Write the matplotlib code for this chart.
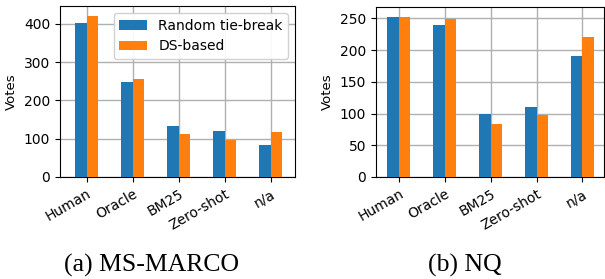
import matplotlib.pyplot as plt
import numpy as np

categories = ['Human', 'Oracle', 'BM25', 'Zero-shot', 'n/a']
series_names = ['Random tie-break', 'DS-based']

msmarco_random = [403, 248, 133, 120, 83]
msmarco_ds = [422, 256, 112, 97, 117]

nq_random = [253, 239, 99, 110, 190]
nq_ds = [253, 249, 84, 97, 220]

BLUE = '#1f77b4'
ORANGE = '#ff7f0e'
W, H = 605, 279


def draw_panel(ax, rand, ds, ymax, yticks, xlim):
    x = np.arange(len(categories))
    w = 0.25
    ax.bar(x - w / 2, rand, w, color=BLUE, label=series_names[0], zorder=3)
    ax.bar(x + w / 2, ds, w, color=ORANGE, label=series_names[1], zorder=3)
    ax.set_xticks(x)
    ax.set_xticklabels(categories, rotation=30, ha='right',
                       rotation_mode='anchor')
    ax.set_yticks(yticks)
    ax.set_ylim(0, ymax)
    ax.set_xlim(*xlim)
    ax.set_ylabel('Votes', fontsize=9.5)
    ax.grid(True, color='#b0b0b0', linewidth=1.0, zorder=0)
    ax.set_axisbelow(True)
    ax.tick_params(labelsize=10)


fig = plt.figure(figsize=(W / 100, H / 100), dpi=100)

ax1 = fig.add_axes([60 / W, (H - 177) / H, 235 / W, 171 / H])
draw_panel(ax1, msmarco_random, msmarco_ds, 447, [0, 100, 200, 300, 400],
           (-0.58, 4.53))
ax1.legend(loc='upper right', fontsize=10, framealpha=0.9)

ax2 = fig.add_axes([376 / W, (H - 177) / H, 228 / W, 170 / H])
draw_panel(ax2, nq_random, nq_ds, 268, [0, 50, 100, 150, 200, 250],
           (-0.5, 4.47))

fig.text(151 / W, 1 - 265 / H, '(a) MS-MARCO', ha='center', va='center',
         fontsize=18.5, family='Liberation Serif')
fig.text(465 / W, 1 - 265 / H, '(b) NQ', ha='center', va='center',
         fontsize=18.5, family='Liberation Serif')

fig.savefig('out.png', dpi=100)
